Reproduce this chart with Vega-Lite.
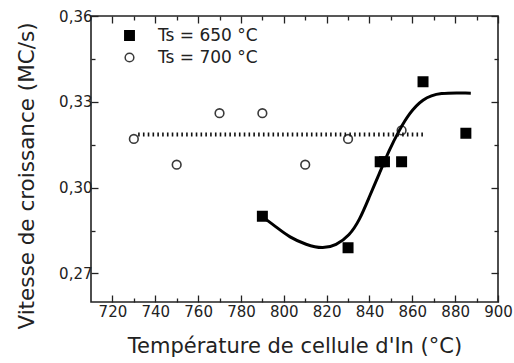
{
  "$schema": "https://vega.github.io/schema/vega-lite/v6.json",
  "width": 407,
  "height": 286,
  "autosize": {"type": "none"},
  "padding": {"left": 91, "top": 16, "right": 16, "bottom": 61},
  "config": {
    "font": "DejaVu Sans",
    "view": {"stroke": "#222", "strokeWidth": 1.6},
    "axis": {"grid": false, "domain": false, "tickColor": "#222", "tickWidth": 1.3, "labelColor": "#222", "titleColor": "#222", "labelFontSize": 15, "titleFontSize": 21, "titleFontWeight": "normal", "labelFont": "DejaVu Sans", "titleFont": "DejaVu Sans", "labelOverlap": false, "labelFlush": false, "labelBound": false}
  },
  "datasets": {
    "pts": [
      {"T": 790, "v": 0.290, "series": "Ts = 650 °C"},
      {"T": 830, "v": 0.279, "series": "Ts = 650 °C"},
      {"T": 845, "v": 0.309, "series": "Ts = 650 °C"},
      {"T": 847, "v": 0.309, "series": "Ts = 650 °C"},
      {"T": 855, "v": 0.309, "series": "Ts = 650 °C"},
      {"T": 865, "v": 0.337, "series": "Ts = 650 °C"},
      {"T": 885, "v": 0.319, "series": "Ts = 650 °C"},
      {"T": 730, "v": 0.317, "series": "Ts = 700 °C"},
      {"T": 750, "v": 0.308, "series": "Ts = 700 °C"},
      {"T": 770, "v": 0.326, "series": "Ts = 700 °C"},
      {"T": 790, "v": 0.326, "series": "Ts = 700 °C"},
      {"T": 810, "v": 0.308, "series": "Ts = 700 °C"},
      {"T": 830, "v": 0.317, "series": "Ts = 700 °C"},
      {"T": 855, "v": 0.320, "series": "Ts = 700 °C"}
    ],
    "curve": [
      {"T": 790.2, "v": 0.2897},
      {"T": 796.5, "v": 0.2862},
      {"T": 802.7, "v": 0.2826},
      {"T": 810.4, "v": 0.2800},
      {"T": 818.2, "v": 0.2786},
      {"T": 824.4, "v": 0.2798},
      {"T": 830.6, "v": 0.2832},
      {"T": 835.3, "v": 0.2885},
      {"T": 839.9, "v": 0.2967},
      {"T": 844.6, "v": 0.3049},
      {"T": 849.2, "v": 0.3131},
      {"T": 853.9, "v": 0.3201},
      {"T": 858.6, "v": 0.3260},
      {"T": 864.7, "v": 0.3310},
      {"T": 872.5, "v": 0.3333},
      {"T": 887.3, "v": 0.3330}
    ],
    "mean": [
      {"T": 732, "v": 0.3186},
      {"T": 865, "v": 0.3186}
    ]
  },
  "layer": [
    {
      "data": {"name": "pts"},
      "mark": {"type": "point", "filled": true, "strokeWidth": 1.6, "opacity": 1},
      "encoding": {
        "x": {"field": "T", "type": "quantitative", "scale": {"domain": [710, 900], "nice": false, "zero": false},
          "axis": {"orient": "bottom", "title": "Température de cellule d'In (°C)", "values": [720,730,740,750,760,770,780,790,800,810,820,830,840,850,860,870,880,890,900],
            "labelExpr": "datum.value % 20 == 0 ? datum.label : ''",
            "tickSize": {"condition": {"test": "datum.value % 20 == 0", "value": -7}, "value": -4},
            "labelPadding": 9, "titlePadding": 13}},
        "y": {"field": "v", "type": "quantitative", "scale": {"domain": [0.26, 0.36], "nice": false, "zero": false},
          "axis": {"orient": "left", "title": "Vitesse de croissance (MC/s)", "titleFontSize": 21.5, "values": [0.27, 0.285, 0.3, 0.315, 0.33, 0.345, 0.36],
            "labelExpr": "indexof(['0.27','0.3','0.33','0.36'], '' + datum.value) >= 0 ? replace(format(datum.value, '.2f'), '.', ',') : ''",
            "tickSize": {"condition": {"test": "indexof(['0.27','0.3','0.33','0.36'], '' + datum.value) >= 0", "value": -7}, "value": -4},
            "labelPadding": 6, "titlePadding": 20, "titleY": 159.5}},
        "shape": {"field": "series", "type": "nominal", "scale": {"domain": ["Ts = 650 °C", "Ts = 700 °C"], "range": ["square", "circle"]},
          "legend": {"orient": "none", "legendX": 30, "legendY": 11, "title": null, "labelFontSize": 17, "labelFont": "DejaVu Sans", "labelOffset": 20, "rowPadding": 4, "labelColor": "#222"}},
        "fill": {"field": "series", "type": "nominal", "scale": {"domain": ["Ts = 650 °C", "Ts = 700 °C"], "range": ["black", "white"]}},
        "stroke": {"field": "series", "type": "nominal", "scale": {"domain": ["Ts = 650 °C", "Ts = 700 °C"], "range": ["black", "#3a3a3a"]}},
        "size": {"field": "series", "type": "nominal", "scale": {"domain": ["Ts = 650 °C", "Ts = 700 °C"], "range": [88, 75]}}
      }
    },
    {
      "data": {"name": "curve"},
      "mark": {"type": "line", "interpolate": "basis", "color": "black", "strokeWidth": 3},
      "encoding": {
        "x": {"field": "T", "type": "quantitative", "scale": {"domain": [710, 900], "nice": false, "zero": false},
          "axis": {"orient": "top", "title": null, "labels": false, "values": [720,730,740,750,760,770,780,790,800,810,820,830,840,850,860,870,880,890,900],
            "tickSize": {"condition": {"test": "datum.value % 20 == 0", "value": -7}, "value": -4}}},
        "y": {"field": "v", "type": "quantitative", "scale": {"domain": [0.26, 0.36], "nice": false, "zero": false},
          "axis": {"orient": "right", "title": null, "labels": false, "values": [0.27, 0.285, 0.3, 0.315, 0.33, 0.345, 0.36],
            "tickSize": {"condition": {"test": "indexof(['0.27','0.3','0.33','0.36'], '' + datum.value) >= 0", "value": -7}, "value": -4}}}
      }
    },
    {
      "data": {"name": "mean"},
      "mark": {"type": "line", "color": "#111", "strokeWidth": 4, "strokeDash": [1.6, 3.2]},
      "encoding": {
        "x": {"field": "T", "type": "quantitative", "scale": {"domain": [710, 900], "nice": false, "zero": false}, "axis": null},
        "y": {"field": "v", "type": "quantitative", "scale": {"domain": [0.26, 0.36], "nice": false, "zero": false}, "axis": null}
      }
    }
  ],
  "resolve": {"scale": {"x": "independent", "y": "independent"}}
}
